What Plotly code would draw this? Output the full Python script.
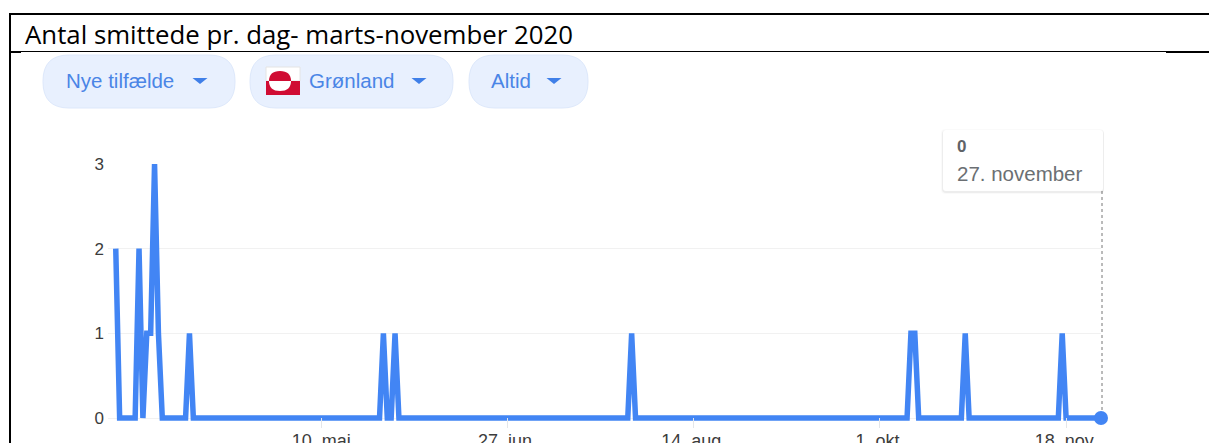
import plotly.graph_objects as go

TITLE = "Antal smittede pr. dag- marts-november 2020"
dates = ["2020-03-18","2020-03-19","2020-03-23","2020-03-24","2020-03-25","2020-03-26","2020-03-27",
         "2020-03-28","2020-03-29","2020-03-30","2020-04-05","2020-04-06","2020-04-07","2020-05-25",
         "2020-05-26","2020-05-27","2020-05-28","2020-05-29","2020-05-30","2020-07-28","2020-07-29",
         "2020-07-30","2020-10-08","2020-10-09","2020-10-10","2020-10-11","2020-10-22","2020-10-23",
         "2020-10-24","2020-11-16","2020-11-17","2020-11-18","2020-11-27"]
new_cases = [2,0,0,2,0,1,1,3,1,0,0,1,0,0,1,0,0,1,0,0,1,0,0,1,1,0,0,1,0,0,1,0,0]
x_tick_dates = ["2020-05-10","2020-06-27","2020-08-14","2020-10-01","2020-11-18"]
x_tick_labels = ["10. mai","27. jun.","14. aug.","1. okt.","18. nov."]
y_ticks = [0,1,2,3]

W, H = 1209, 443
BLUE = "#4285f4"
def px(x): return x / W
def py(y): return 1 - y / H

fig = go.Figure()
fig.add_trace(go.Scatter(x=dates, y=new_cases, mode="lines", hoverinfo="skip",
                         line=dict(color=BLUE, width=5.5, shape="linear")))
fig.add_trace(go.Scatter(x=dates[-1:], y=new_cases[-1:], mode="markers", hoverinfo="skip",
                         cliponaxis=False, marker=dict(color=BLUE, size=14)))

shapes = []
def line(x0, y0, x1, y1, w=2, color="black", dash="solid"):
    shapes.append(dict(type="line", xref="paper", yref="paper", x0=px(x0), y0=py(y0), x1=px(x1), y1=py(y1),
                       line=dict(color=color, width=w, dash=dash)))
def rect(x0, y0, x1, y1, fill, border=None, w=1):
    shapes.append(dict(type="rect", xref="paper", yref="paper", x0=px(x0), y0=py(y0), x1=px(x1), y1=py(y1),
                       fillcolor=fill, line=dict(color=border or fill, width=w if border else 0)))
def pill(x0, y0, x1, y1, r, fill, border, w=1):
    X = lambda v: px(v)
    Y = lambda v: py(v)
    p = (f"M {X(x0+r)} {Y(y0)} L {X(x1-r)} {Y(y0)} "
         f"Q {X(x1)} {Y(y0)} {X(x1)} {Y(y0+r)} L {X(x1)} {Y(y1-r)} "
         f"Q {X(x1)} {Y(y1)} {X(x1-r)} {Y(y1)} L {X(x0+r)} {Y(y1)} "
         f"Q {X(x0)} {Y(y1)} {X(x0)} {Y(y1-r)} L {X(x0)} {Y(y0+r)} "
         f"Q {X(x0)} {Y(y0)} {X(x0+r)} {Y(y0)} Z")
    shapes.append(dict(type="path", xref="paper", yref="paper", path=p, fillcolor=fill,
                       line=dict(color=border, width=w)))
def tri(cx, y0, y1, half):
    p = f"M {px(cx-half)} {py(y0)} L {px(cx+half)} {py(y0)} L {px(cx)} {py(y1)} Z"
    shapes.append(dict(type="path", xref="paper", yref="paper", path=p, fillcolor="#3f7fe8", line=dict(width=0)))

# document frame
line(9, 14, W, 14, 2)
line(10, 14, 10, H, 2)
line(10, 51.5, 1166, 51.5, 1)
line(1166, 52, W, 52, 2)
line(10, 52, 21, 52, 2)

# filter chips
chip_fill, chip_line = "#e8f0fe", "#dde8fb"
pill(43, 55, 235, 108, 26, chip_fill, chip_line)
pill(250, 55, 453, 108, 26, chip_fill, chip_line)
pill(469, 55, 588, 108, 26, chip_fill, chip_line)
tri(200, 78, 84, 7.5)
tri(419, 78, 84, 7.5)
tri(554, 78, 84, 7.5)

# Greenland flag
rect(266, 67, 300, 81, "#ffffff", "#e4e4e4")
rect(266, 81, 300, 95, "#d00c33")
shapes.append(dict(type="path", xref="paper", yref="paper", fillcolor="#d00c33", line=dict(width=0),
                   path=f"M {px(269)} {py(81)} Q {px(269)} {py(71)} {px(280)} {py(71)} Q {px(291)} {py(71)} {px(291)} {py(81)} Z"))
shapes.append(dict(type="path", xref="paper", yref="paper", fillcolor="#ffffff", line=dict(width=0),
                   path=f"M {px(269)} {py(81)} Q {px(269)} {py(91)} {px(280)} {py(91)} Q {px(291)} {py(91)} {px(291)} {py(81)} Z"))

# tooltip
line(1102, 191, 1102, 412, 1, "#777777", "dot")
pill(941, 129, 1104, 194, 4, "rgba(0,0,0,0.02)", "rgba(0,0,0,0)", 0)
pill(942, 130, 1104, 193, 4, "rgba(0,0,0,0.05)", "rgba(0,0,0,0)", 0)
pill(943, 130, 1103, 191, 3, "#ffffff", "#ffffff", 0)

fig.update_layout(shapes=shapes)
annotations = []
def text(x, y, s, size, color, family="Liberation Sans", bold=False):
    annotations.append(dict(xref="paper", yref="paper", x=px(x), y=py(y), xanchor="left", yanchor="middle",
                            text=f"<b>{s}</b>" if bold else s, showarrow=False,
                            font=dict(size=size, color=color, family=family)))
text(23, 34, TITLE, 25.8, "#000000", family="Open Sans")
text(64, 81, "Nye tilfælde", 20.5, "#4a85e6")
text(307, 81, "Grønland", 20.5, "#4a85e6")
text(489, 81, "Altid", 20.5, "#4a85e6")
text(955, 146, "0", 17, "#5f6368", bold=True)
text(955, 174, "27. november", 20.5, "#6b6f73")

fig.update_layout(
    width=W, height=H, margin=dict(l=0, r=0, t=0, b=0), autosize=False,
    paper_bgcolor="white", plot_bgcolor="white", showlegend=False, annotations=annotations,
    xaxis=dict(domain=[px(108), px(1101)], range=["2020-03-16", "2020-11-27"], type="date",
               automargin=False,
               tickmode="array", tickvals=x_tick_dates, ticktext=x_tick_labels,
               ticks="inside", ticklen=10, tickcolor="#e4e6e9", tickwidth=1,
               showgrid=False, showline=False, zeroline=False,
               tickfont=dict(family="Liberation Sans", size=18, color="#3c3c3c")),
    yaxis=dict(domain=[py(428), py(164)], range=[-0.118, 3], automargin=False,
               tickmode="array", tickvals=y_ticks, ticktext=[str(v) for v in y_ticks],
               ticks="", showgrid=True, gridcolor="#f1f1f1", gridwidth=1, zeroline=False, showline=False,
               ticklabelstandoff=3,
               tickfont=dict(family="Liberation Sans", size=17, color="#3c3c3c")),
)
fig.write_html("out.html", config=dict(displayModeBar=False),
               post_script="document.body.style.margin='0';document.body.style.overflow='hidden';")
